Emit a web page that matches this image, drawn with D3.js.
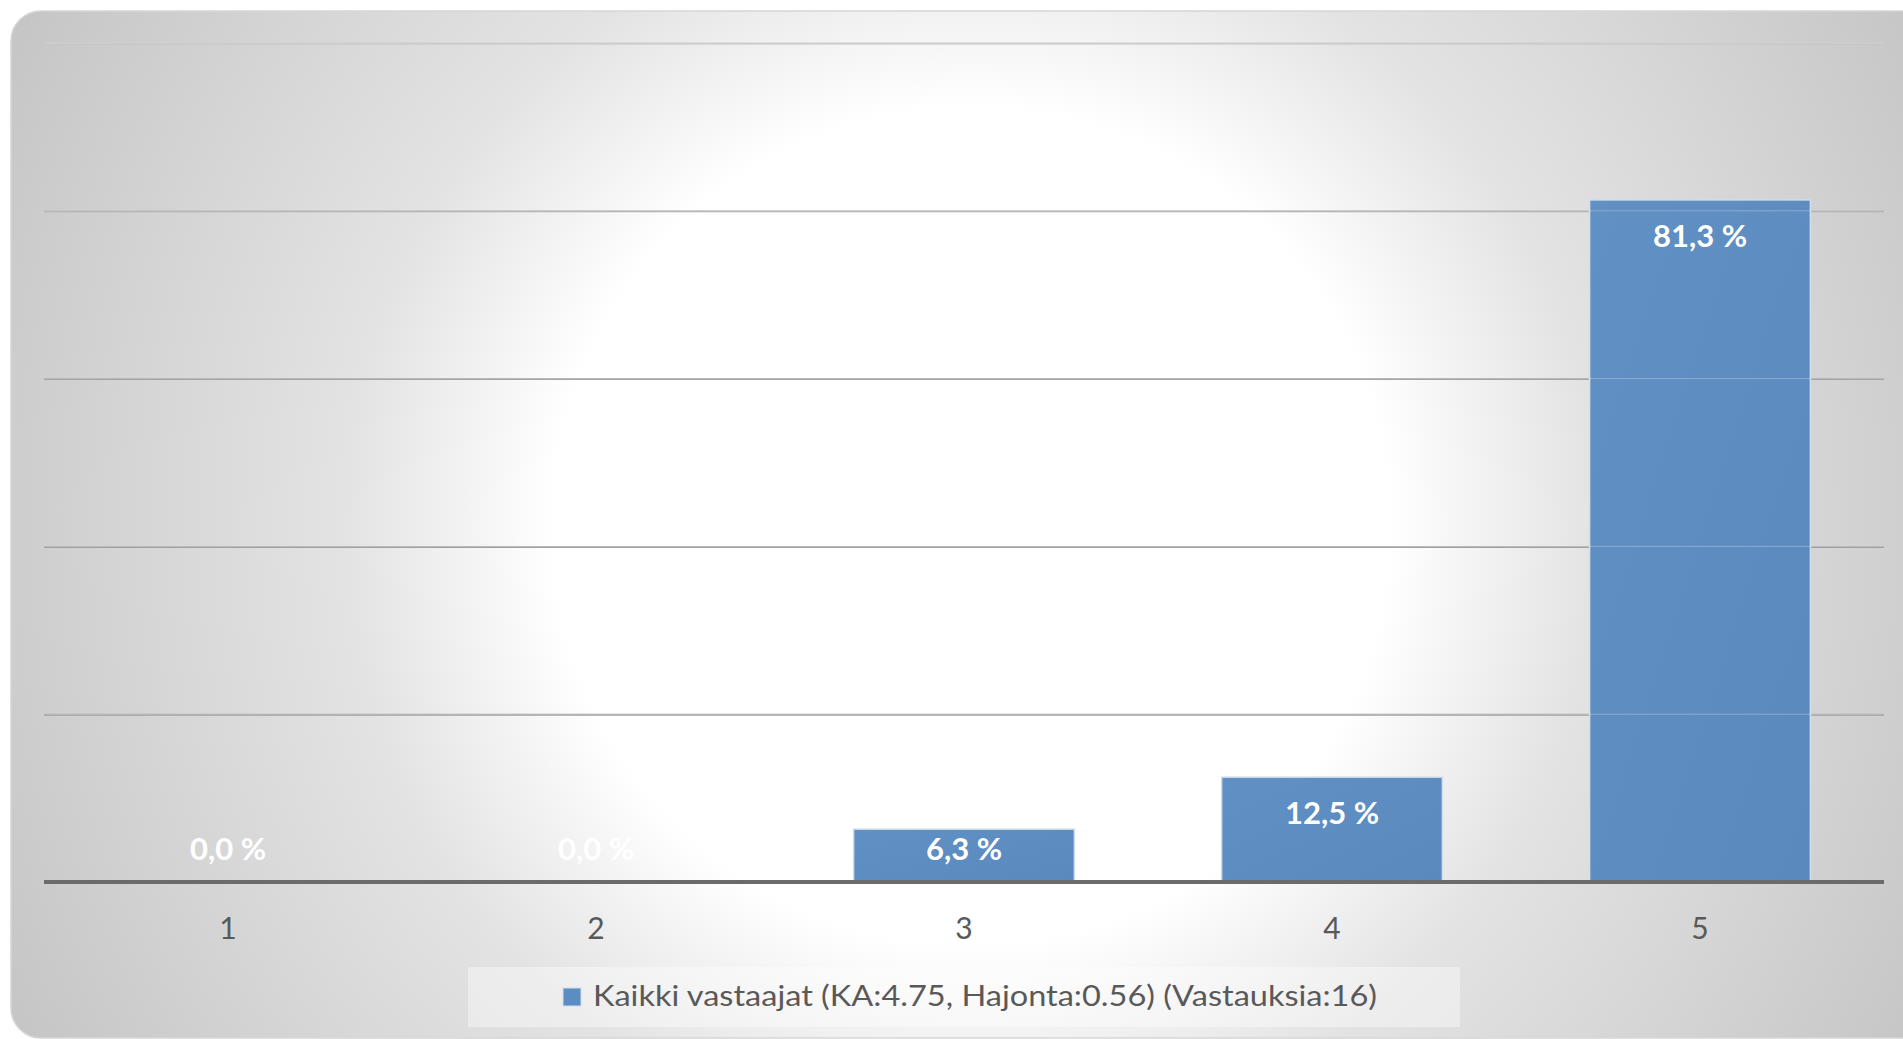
<!DOCTYPE html>
<html><head><meta charset="utf-8">
<script src="https://cdn.jsdelivr.net/npm/d3@7/dist/d3.min.js"></script>
<style>html,body{margin:0;padding:0;background:#fff;overflow:hidden}</style>
</head><body>
<svg id="chart" width="1903" height="1039"></svg>
<script>
const categories = ["1", "2", "3", "4", "5"];
const values = [0.0, 0.0, 6.3, 12.5, 81.3];
const yTicks = [0, 20, 40, 60, 80, 100];
const seriesName = "Kaikki vastaajat (KA:4.75, Hajonta:0.56) (Vastauksia:16)";

const W = 1903, H = 1039;
const plot = {left: 44, right: 1884, top: 43, bottom: 882};
const svg = d3.select("#chart");
const defs = svg.append("defs");

const bg = defs.append("radialGradient").attr("id", "bgGrad")
  .attr("gradientUnits", "userSpaceOnUse")
  .attr("cx", 971).attr("cy", 526).attr("r", 1100);
[[0, "#ffffff"], [0.38, "#ffffff"], [0.46, "#f3f3f3"], [0.57, "#e3e3e3"], [0.78, "#d4d4d4"], [1, "#c4c4c4"]]
  .forEach(([o, c]) => bg.append("stop").attr("offset", o).attr("stop-color", c));

const barGrad = defs.append("linearGradient").attr("id", "barGrad")
  .attr("x1", 0).attr("y1", 0).attr("x2", 1).attr("y2", 1);
barGrad.append("stop").attr("offset", 0).attr("stop-color", "#6090c4");
barGrad.append("stop").attr("offset", 1).attr("stop-color", "#5a89bd");

// chart frame
svg.append("rect").attr("x", 11).attr("y", 11).attr("width", 1925).attr("height", 1027)
  .attr("rx", 30).attr("ry", 30)
  .attr("fill", "url(#bgGrad)").attr("stroke", "#d6d6d6").attr("stroke-width", 1.5);

const x = d3.scaleBand().domain(categories).range([plot.left, plot.right])
  .paddingInner(0.4).paddingOuter(0.2);
const y = d3.scaleLinear().domain([0, 100]).range([plot.bottom, plot.top]);

// gridlines
const grid = svg.append("g").attr("class", "grid")
  .attr("transform", `translate(${plot.left},0)`)
  .call(d3.axisLeft(y).tickValues(yTicks.filter(t => t > 0))
    .tickSize(-(plot.right - plot.left)).tickFormat(""));
grid.select(".domain").remove();
grid.selectAll(".tick line").attr("stroke", (d) => d === 100 ? "#c4c4c4" : (d === 80 ? "#b0b0b0" : "#a2a2a2"))
  .attr("stroke-width", 2);

// bars
svg.append("g").selectAll("rect").data(values).join("rect")
  .attr("x", (d, i) => x(categories[i]))
  .attr("width", x.bandwidth())
  .attr("y", d => y(d))
  .attr("height", d => y(0) - y(d))
  .attr("fill", "url(#barGrad)")
  .attr("stroke", d => d > 0 ? "#d3deec" : "none")
  .attr("stroke-width", 1.5);

// light highlight lines on gridlines
const hl = svg.append("g")
  .attr("transform", `translate(${plot.left},0)`)
  .call(d3.axisLeft(y).tickValues(yTicks.filter(t => t > 0))
    .tickSize(-(plot.right - plot.left)).tickFormat(""));
hl.select(".domain").remove();
hl.selectAll(".tick line").attr("stroke", "#ffffff").attr("stroke-opacity", 0.28).attr("stroke-width", 1)
  .attr("transform", "translate(0,-0.5)");

// x axis
const xAxis = svg.append("g").attr("transform", `translate(0,${y(0)})`)
  .call(d3.axisBottom(x).tickSize(0).tickPadding(57));
xAxis.select(".domain").attr("stroke", "#6b6b6b").attr("stroke-width", 4)
  .attr("d", `M${plot.left},0H${plot.right}`);
xAxis.selectAll(".tick text").attr("fill", "#595959")
  .attr("font-family", "Lato, 'Open Sans', sans-serif").attr("font-size", 30)
  .attr("dy", 0);

// value labels
const fmt = v => v.toFixed(1).replace(".", ",") + " %";
svg.append("g").selectAll("text").data(values).join("text")
  .attr("x", (d, i) => x(categories[i]) + x.bandwidth() / 2)
  .attr("y", d => Math.min(y(d) + 47, y(0) - 22))
  .attr("text-anchor", "middle")
  .attr("fill", "#ffffff")
  .attr("font-family", "Lato, 'Open Sans', sans-serif")
  .attr("font-weight", "bold").attr("font-size", 31)
  .text(fmt);

// legend
const legX = 468, legY = 967, legW = 992, legH = 60;
svg.append("rect").attr("x", legX).attr("y", legY).attr("width", legW).attr("height", legH)
  .attr("fill", "#ffffff").attr("fill-opacity", 0.38);
svg.append("rect").attr("x", legX + 95).attr("y", legY + 21).attr("width", 18).attr("height", 18)
  .attr("fill", "#5b8cc2").attr("stroke", "#d3deec").attr("stroke-width", 1);
const lt = svg.append("text").attr("x", legX + 125).attr("y", legY + 39)
  .attr("fill", "#595959")
  .attr("font-family", "Lato, 'Open Sans', sans-serif").attr("font-size", 29)
  .text(seriesName);
const natural = lt.node().getComputedTextLength();
const target = 784;
if (Math.abs(natural - target) > 6) {
  lt.attr("textLength", target).attr("lengthAdjust", "spacingAndGlyphs");
}
</script>
</body></html>
